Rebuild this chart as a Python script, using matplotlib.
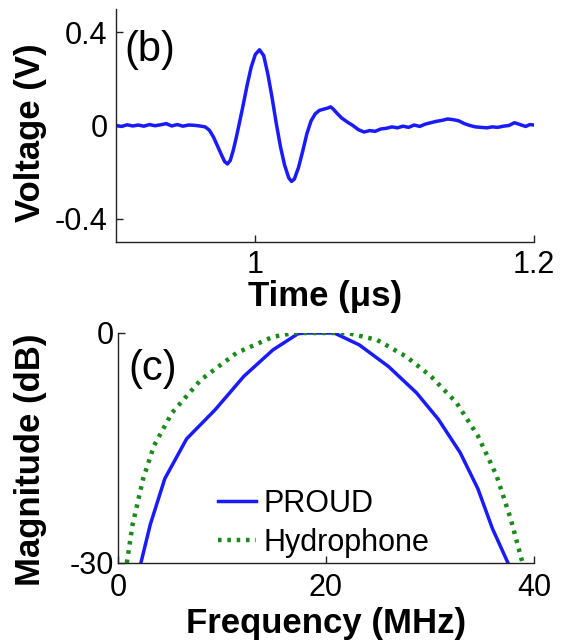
import matplotlib
matplotlib.use("Agg")
import matplotlib.pyplot as plt

plt.rcParams['font.family'] = ['Liberation Sans', 'DejaVu Sans']
plt.rcParams['axes.unicode_minus'] = False

# ---- panel (b): time-domain pulse ----
time_us = [0.900, 0.904, 0.908, 0.912, 0.916, 0.920, 0.924, 0.928, 0.932, 0.936,
           0.940, 0.944, 0.948, 0.952, 0.956, 0.960, 0.964, 0.967, 0.970, 0.973,
           0.976, 0.978, 0.980, 0.982, 0.984, 0.986, 0.988, 0.991, 0.994, 0.997,
           1.000, 1.003, 1.006, 1.009, 1.012, 1.015, 1.018, 1.021, 1.024, 1.026,
           1.028, 1.031, 1.034, 1.037, 1.040, 1.043, 1.046, 1.049, 1.052, 1.054,
           1.056, 1.059, 1.062, 1.066, 1.070, 1.074, 1.078, 1.082, 1.086, 1.090,
           1.094, 1.098, 1.102, 1.106, 1.110, 1.114, 1.118, 1.122, 1.126, 1.130,
           1.134, 1.138, 1.142, 1.146, 1.150, 1.154, 1.158, 1.162, 1.166, 1.170,
           1.174, 1.178, 1.182, 1.186, 1.190, 1.194, 1.197, 1.200]
voltage_v = [0.000, -0.004, 0.003, -0.002, 0.002, -0.003, 0.004, -0.001, 0.003, 0.008,
             -0.002, 0.004, -0.003, 0.002, 0.001, -0.002, -0.006, -0.020, -0.050, -0.090,
             -0.130, -0.155, -0.165, -0.150, -0.110, -0.060, -0.005, 0.080, 0.170, 0.250,
             0.305, 0.325, 0.300, 0.220, 0.120, 0.010, -0.090, -0.170, -0.225, -0.240,
             -0.230, -0.180, -0.110, -0.035, 0.020, 0.050, 0.065, 0.070, 0.075, 0.080,
             0.070, 0.050, 0.032, 0.015, 0.000, -0.018, -0.028, -0.022, -0.025, -0.015,
             -0.012, -0.006, -0.010, -0.003, -0.008, 0.002, -0.004, 0.006, 0.012, 0.018,
             0.022, 0.028, 0.025, 0.020, 0.008, 0.000, -0.006, -0.008, -0.010, -0.006,
             -0.008, -0.003, 0.000, 0.012, 0.004, -0.004, 0.004, 0.002]
assert len(time_us) == len(voltage_v)

# ---- panel (c): spectra ----
proud_f = [2.2, 3.1, 4.5, 6.6, 9.35, 12.1, 14.9, 17.3, 18.0, 20.8, 23.2, 26.0,
           28.7, 30.8, 32.9, 34.6, 36.0, 37.5]
proud_db = [-30, -25.0, -19.0, -13.8, -10.0, -5.65, -2.2, -0.1, 0, 0, -1.55, -4.36,
            -7.8, -11.25, -15.6, -20.3, -25.5, -30]
hydro_f = [0.85, 1.4, 2.42, 3.46, 5.2, 7.97, 11.4, 14.9, 16.9, 22.1, 24.9, 27.7,
           30.1, 32.55, 34.6, 36.4, 37.75, 38.9]
hydro_db = [-30, -25.0, -19.0, -14.7, -10.4, -6.1, -2.6, -0.5, 0, 0, -0.9, -3.06,
            -5.65, -9.1, -13.4, -18.6, -24.2, -30]

fig = plt.figure(figsize=(5.64, 6.41), dpi=100)

def style(ax):
    for s in ('top', 'right'):
        ax.spines[s].set_visible(False)
    for s in ('left', 'bottom'):
        ax.spines[s].set_linewidth(1.0)
        ax.spines[s].set_color('#222222')
    ax.tick_params(direction='in', length=5, width=1.0, labelsize=22, pad=6,
                   top=False, right=False, colors='#222222', labelcolor='black')

ax1 = fig.add_axes([116/564, 1-242/641, 418/564, 233/641])
ax1.plot(time_us, voltage_v, color='#1a1aff', lw=2.5)
ax1.set_xlim(0.9, 1.2)
ax1.set_ylim(-0.5, 0.5)
ax1.set_xticks([1.0, 1.2])
ax1.set_xticklabels(['1', '1.2'])
ax1.set_yticks([-0.4, 0, 0.4])
ax1.set_yticklabels(['-0.4', '0', '0.4'])
style(ax1)
ax1.set_xlabel('Time (\u03bcs)', fontsize=25, fontweight='bold', labelpad=0)
ax1.set_ylabel('Voltage (V)', fontsize=25, fontweight='bold')
ax1.yaxis.set_label_coords(-0.165, 0.47)
ax1.text(0.02, 0.91, '(b)', transform=ax1.transAxes, fontsize=30, va='top', ha='left')

ax2 = fig.add_axes([118/564, 1-563/641, 416/564, 230/641])
ax2.plot(proud_f, proud_db, color='#1a1aff', lw=2.5, label='PROUD')
ax2.plot(hydro_f, hydro_db, color='#1a8a1a', lw=3.2, ls=(0, (0.8, 1.3)),
         label='Hydrophone')
ax2.set_xlim(0, 40)
ax2.set_ylim(-30, 0)
ax2.set_xticks([0, 20, 40])
ax2.set_yticks([-30, 0])
ax2.set_yticklabels(['-30', '0'])
style(ax2)
ax2.tick_params(axis='y', pad=3)
ax2.tick_params(axis='x', pad=7)
ax2.set_xlabel('Frequency (MHz)', fontsize=25, fontweight='bold', labelpad=3)
ax2.set_ylabel('Magnitude (dB)', fontsize=25, fontweight='bold')
ax2.yaxis.set_label_coords(-0.17, 0.45)
ax2.text(0.025, 0.93, '(c)', transform=ax2.transAxes, fontsize=30, va='top', ha='left')
ax2.legend(loc='center left', bbox_to_anchor=(0.24, 0.172), frameon=False,
           fontsize=22, handlelength=1.25, handletextpad=0.25, borderpad=0,
           borderaxespad=0, labelspacing=0.3)

fig.savefig('out.png', dpi=100)
